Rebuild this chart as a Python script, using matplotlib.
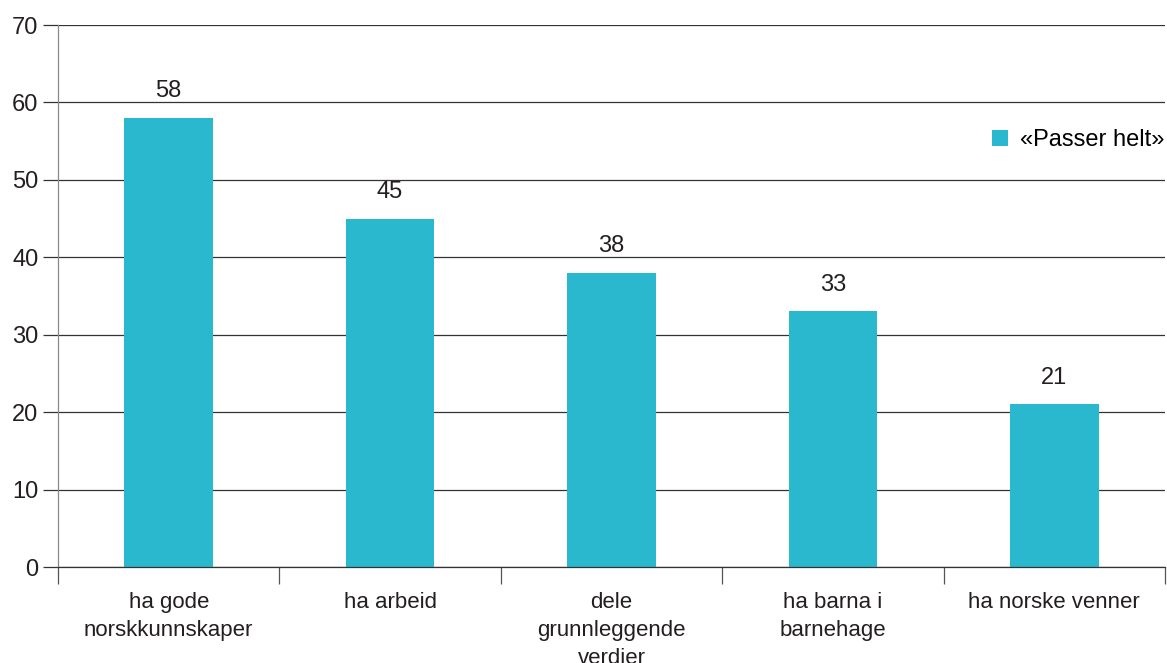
import matplotlib
matplotlib.use("Agg")
import matplotlib.pyplot as plt
from matplotlib.patches import Patch

plt.rcParams['font.family'] = ['Liberation Sans', 'DejaVu Sans']

categories = ["ha gode\nnorskkunnskaper", "ha arbeid", "dele\ngrunnleggende\nverdier",
              "ha barna i\nbarnehage", "ha norske venner"]
values = [58, 45, 38, 33, 21]
series_name = "«Passer helt»"
yticks = [0, 10, 20, 30, 40, 50, 60, 70]

bar_color = "#2AB8CE"
text_color = "#231F20"

fig = plt.figure(figsize=(11.67, 6.63), dpi=100)
ax = fig.add_axes([58/1167, 1-567/663, (1165-58)/1167, (567-25)/663])

x = list(range(len(categories)))
ax.bar(x, values, width=0.4, color=bar_color, zorder=3)
for xi, v in zip(x, values):
    ax.text(xi, v + 2.0, str(v), ha='center', va='bottom', fontsize=17, color=text_color)

ax.set_xlim(-0.5, len(categories) - 0.5)
ax.set_ylim(0, 70)
ax.set_yticks(yticks)
ax.set_yticklabels([str(t) for t in yticks], fontsize=17, color=text_color)
ax.yaxis.grid(True, color='#333333', linewidth=0.9, zorder=0)
ax.tick_params(axis='y', length=11, width=0.9, color='#333333', pad=3)

ax.set_xticks([i - 0.5 for i in range(len(categories) + 1)])
ax.set_xticklabels([''] * (len(categories) + 1))
ax.set_xticks(x, minor=True)
ax.set_xticklabels(categories, minor=True, fontsize=16, color=text_color, linespacing=1.45)
ax.tick_params(axis='x', which='major', length=12, width=0.9, color='#555555')
ax.tick_params(axis='x', which='minor', length=0, pad=18)

for s in ['top', 'right']:
    ax.spines[s].set_visible(False)
ax.spines['left'].set_color('#888888')
ax.spines['left'].set_linewidth(0.9)
ax.spines['bottom'].set_color('#333333')
ax.spines['bottom'].set_linewidth(0.9)
ax.spines['bottom'].set_zorder(4)

handle = Patch(facecolor=bar_color, edgecolor='none')
fig.legend([handle], [series_name], loc='center right',
           bbox_to_anchor=(1164/1167, 1-140/663), frameon=False, fontsize=17,
           handlelength=0.65, handleheight=0.65, handletextpad=0.5, borderpad=0, borderaxespad=0)

fig.savefig("out.png", dpi=100)
